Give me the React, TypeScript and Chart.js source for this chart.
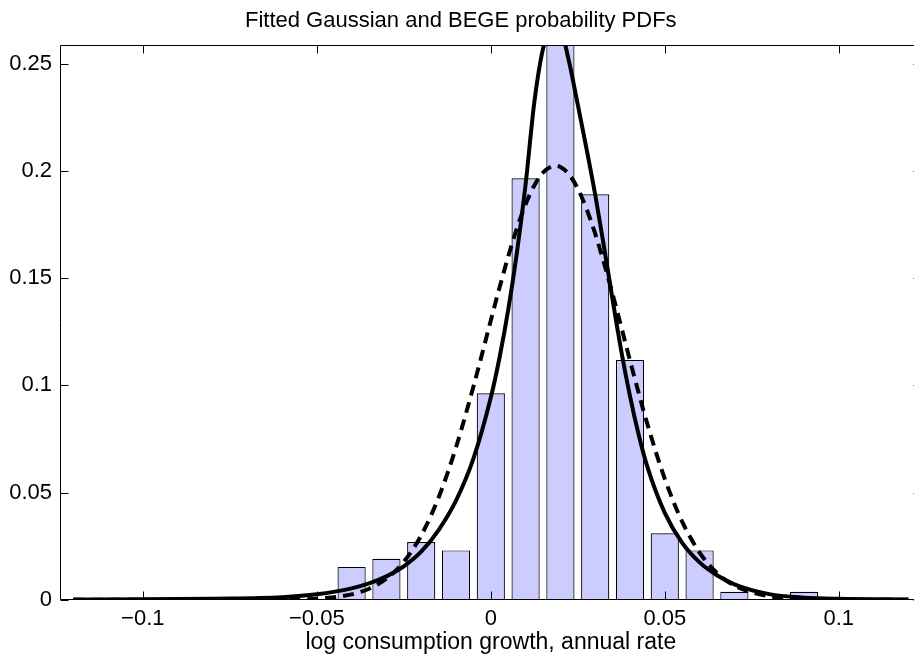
import React, { useEffect, useRef } from "react";
import { Chart, registerables } from "chart.js";

Chart.register(...registerables);

const FONT = "'Liberation Sans', Arial, Helvetica, sans-serif";

// Histogram (relative frequency per bin)
const barCenters = [-0.04, -0.03, -0.02, -0.01, 0, 0.01, 0.02, 0.03, 0.04, 0.05, 0.06, 0.07, 0.08, 0.09];
const barHeights = [0.0153, 0.0191, 0.0269, 0.023, 0.0963, 0.1966, 0.2603, 0.1892, 0.1119, 0.031, 0.023, 0.0037, 0, 0.0037];

// Fitted PDFs, sampled along x
const curveX = [
  -0.12, -0.1, -0.08, -0.06, -0.05, -0.04, -0.035, -0.03, -0.025, -0.02, -0.015, -0.01, -0.005, 0, 0.0025, 0.005,
  0.0075, 0.01, 0.0125, 0.015, 0.0175, 0.0185, 0.02, 0.0225, 0.025, 0.0275, 0.03, 0.0325, 0.035, 0.0375, 0.04,
  0.0425, 0.045, 0.05, 0.055, 0.06, 0.065, 0.07, 0.08, 0.09, 0.1, 0.12,
];
const begeY = [
  0.0001, 0.0002, 0.0005, 0.0012, 0.0025, 0.0053, 0.0076, 0.0109, 0.0156, 0.0224, 0.0325, 0.0462, 0.0658, 0.0943,
  0.1129, 0.1352, 0.1619, 0.1938, 0.232, 0.257, 0.2675, 0.27, 0.267, 0.251, 0.231, 0.2105, 0.189, 0.165, 0.14, 0.116,
  0.095, 0.077, 0.062, 0.0405, 0.0265, 0.0174, 0.0114, 0.0072, 0.0026, 0.00095, 0.0004, 0.0001,
];
const gaussY = [
  0, 0, 0, 0.0001, 0.0005, 0.0025, 0.0051, 0.0098, 0.0177, 0.03, 0.0477, 0.0711, 0.0994, 0.1303, 0.1456, 0.1601,
  0.1733, 0.1845, 0.1933, 0.1993, 0.2022, 0.2025, 0.2019, 0.1984, 0.1918, 0.1824, 0.1708, 0.1573, 0.1426, 0.1272,
  0.1116, 0.0964, 0.0819, 0.0564, 0.0364, 0.022, 0.0125, 0.0066, 0.0016, 0.0003, 0, 0,
];

const xTickValues = [-0.1, -0.05, 0, 0.05, 0.1];
const xTickLabels = ["\u22120.1", "\u22120.05", "0", "0.05", "0.1"];
const yTickValues = [0, 0.05, 0.1, 0.15, 0.2, 0.25];
const yTickLabels = ["0", "0.05", "0.1", "0.15", "0.2", "0.25"];

const titleText = "Fitted Gaussian and BEGE probability PDFs";
const xAxisLabel = "log consumption growth, annual rate";

const X_MIN = -0.1238;
const X_MAX = 0.1238;
const Y_MIN = 0;
const Y_MAX = 0.2585;

const labelFor = (values: number[], labels: string[], v: number) => {
  const i = values.findIndex((t) => Math.abs(t - v) < 1e-9);
  return i >= 0 ? labels[i] : "";
};

const framePlugin = {
  id: "matlabFrame",
  afterDraw(chart: any) {
    const { ctx, chartArea, scales } = chart;
    const L = Math.floor(chartArea.left) + 0.5;
    const R = Math.floor(chartArea.right) + 0.5;
    const T = Math.floor(chartArea.top) + 0.5;
    const B = Math.floor(chartArea.bottom) + 0.5;
    const tick = 8;
    ctx.save();
    ctx.strokeStyle = "#000";
    ctx.lineWidth = 1;
    ctx.beginPath();
    ctx.rect(L, T, R - L, B - T);
    xTickValues.forEach((v) => {
      const px = Math.round(scales.x.getPixelForValue(v)) + 0.5;
      ctx.moveTo(px, B);
      ctx.lineTo(px, B - tick);
      ctx.moveTo(px, T);
      ctx.lineTo(px, T + tick);
    });
    yTickValues.forEach((v) => {
      const py = Math.round(scales.y.getPixelForValue(v)) + 0.5;
      ctx.moveTo(L, py);
      ctx.lineTo(L + tick, py);
      ctx.moveTo(R, py);
      ctx.lineTo(R - tick, py);
    });
    ctx.stroke();
    ctx.restore();
  },
};

export default function App() {
  const canvasRef = useRef<HTMLCanvasElement | null>(null);

  useEffect(() => {
    const canvas = canvasRef.current;
    if (!canvas) return;
    const chart = new Chart(canvas, {
      type: "bar",
      data: {
        datasets: [
          {
            type: "line",
            label: "BEGE",
            data: curveX.map((x, i) => ({ x, y: begeY[i] })),
            borderColor: "#000",
            borderWidth: 4,
            pointRadius: 0,
            cubicInterpolationMode: "monotone",
            fill: false,
            clip: 0,
            order: 1,
          } as any,
          {
            type: "line",
            label: "Gaussian",
            data: curveX.map((x, i) => ({ x, y: gaussY[i] })),
            borderColor: "#000",
            borderWidth: 4,
            borderDash: [11, 7],
            pointRadius: 0,
            cubicInterpolationMode: "monotone",
            fill: false,
            clip: 0,
            order: 2,
          } as any,
          {
            type: "bar",
            label: "Histogram",
            data: barCenters.map((x, i) => ({ x, y: barHeights[i] })),
            backgroundColor: "#ccccff",
            borderColor: "#000000",
            borderWidth: 1.2,
            barPercentage: 0.81,
            categoryPercentage: 1,
            clip: 0,
            order: 3,
          } as any,
        ],
      },
      options: {
        animation: false,
        responsive: false,
        events: [],
        layout: { padding: { left: 0, right: 13.4, top: 0, bottom: 0 } },
        plugins: {
          legend: { display: false },
          tooltip: { enabled: false },
          title: {
            display: true,
            text: titleText,
            color: "#000",
            font: { family: FONT, size: 22, weight: "normal", lineHeight: 1.2 },
            padding: { top: 7.4, bottom: 11.9 },
          },
        },
        scales: {
          x: {
            type: "linear",
            min: X_MIN,
            max: X_MAX,
            offset: false,
            grid: { display: false, drawTicks: false, offset: false },
            border: { display: false },
            afterBuildTicks: (s: any) => {
              s.ticks = xTickValues.map((v) => ({ value: v }));
            },
            afterFit: (s: any) => {
              s.height = 64.3;
            },
            ticks: {
              autoSkip: false,
              maxRotation: 0,
              padding: 6,
              color: "#000",
              font: { family: FONT, size: 22 },
              callback: (v: any) => labelFor(xTickValues, xTickLabels, Number(v)),
            },
            title: {
              display: true,
              text: xAxisLabel,
              color: "#000",
              font: { family: FONT, size: 23, lineHeight: 1.2 },
              padding: { top: 0, bottom: 8 },
            },
          },
          y: {
            type: "linear",
            min: Y_MIN,
            max: Y_MAX,
            grid: { display: false, drawTicks: false },
            border: { display: false },
            afterBuildTicks: (s: any) => {
              s.ticks = yTickValues.map((v) => ({ value: v }));
            },
            afterFit: (s: any) => {
              s.width = 60;
            },
            ticks: {
              autoSkip: false,
              padding: 8,
              color: "#000",
              font: { family: FONT, size: 22 },
              callback: (v: any) => labelFor(yTickValues, yTickLabels, Number(v)),
            },
          },
        },
      } as any,
      plugins: [framePlugin],
    });
    return () => chart.destroy();
  }, []);

  return (
    <div
      style={{
        position: "absolute",
        left: 0,
        top: 0,
        width: 914,
        height: 664,
        overflow: "hidden",
        background: "#fff",
      }}
    >
      <canvas ref={canvasRef} width={935} height={664} style={{ display: "block", width: 935, height: 664 }} />
    </div>
  );
}
